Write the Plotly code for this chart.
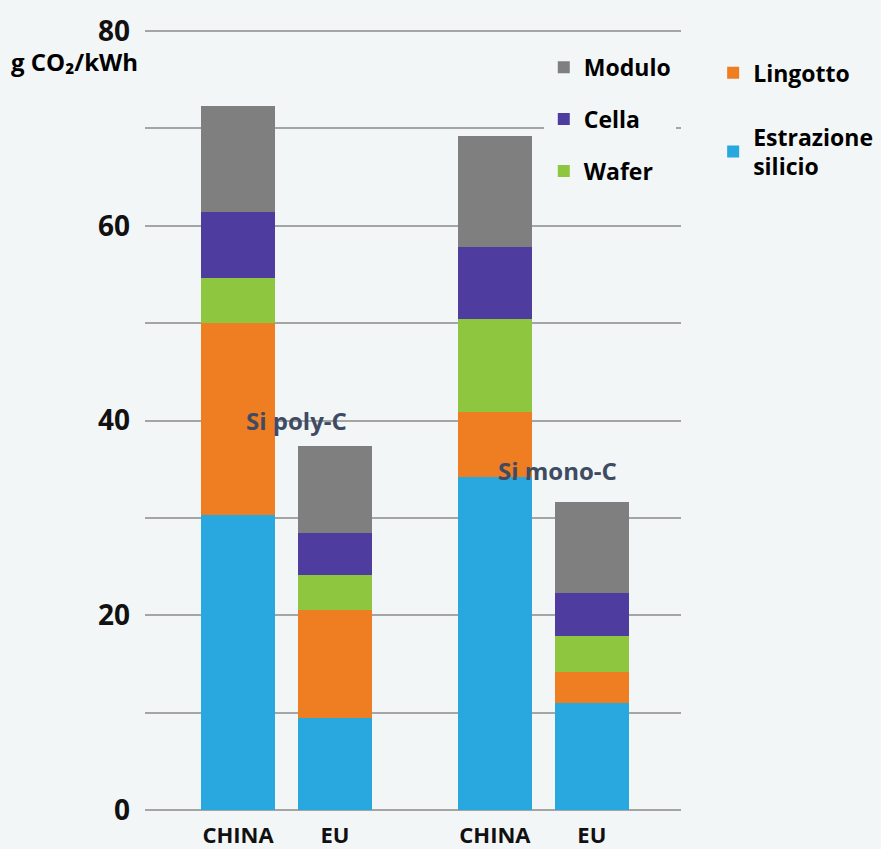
import plotly.graph_objects as go

# ---- data ----
groups = ["Si poly-C", "Si mono-C"]
regions = ["CHINA", "EU"]
stages = ["Estrazione<br>silicio", "Lingotto", "Wafer", "Cella", "Modulo"]
estrazione = [30.3, 9.5, 34.2, 11.0]
lingotto = [19.7, 11.0, 6.7, 3.2]
wafer = [4.6, 3.6, 9.5, 3.7]
cella = [6.8, 4.3, 7.4, 4.4]
modulo = [10.9, 9.0, 11.4, 9.3]
y_ticks = [0, 20, 40, 60, 80]

series = [estrazione, lingotto, wafer, cella, modulo]
colors = ["#29a7df", "#ef7d22", "#8ec63f", "#4e3d9e", "#7f7f7f"]
legend_of = ["legend2", "legend2", "legend", "legend", "legend"]
legend_rank = [2, 1, 3, 2, 1]

# layout positions of the bars (group spacing)
GAP = 2.65
xpos = [g * GAP + r for g in range(len(groups)) for r in range(len(regions))]
xlabels = [r for g in groups for r in regions]

BG = "#f3f6f6"
FONT = "Open Sans"

fig = go.Figure()
for name, vals, col, lg, rk in zip(stages, series, colors, legend_of, legend_rank):
    fig.add_trace(go.Bar(
        x=xpos, y=vals, name=name, marker=dict(color=col, line=dict(width=0)),
        width=0.77, legend=lg, legendgroup=name, legendrank=rk,
    ))

grid_vals = list(range(0, 81, 10))
grid_text = [str(v) if v in y_ticks else "" for v in grid_vals]

L, R, T, B = 145, 200, 26, 34
W, H = 881 - L - R, 849 - T - B

fig.update_layout(
    width=881, height=849,
    barmode="stack",
    paper_bgcolor=BG, plot_bgcolor=BG,
    margin=dict(l=L, r=R, t=T, b=B, autoexpand=False),
    font=dict(family=FONT, color="#000000"),
    xaxis=dict(
        range=[-0.96, 4.57], tickvals=xpos, ticktext=xlabels,
        showgrid=False, zeroline=False, showline=False, automargin=False,
        tickfont=dict(size=22, family=FONT, weight="bold", color="#111111"),
        ticks="", ticklabelstandoff=5,
    ),
    yaxis=dict(
        range=[-0.5, 80.5], tickvals=grid_vals, ticktext=grid_text,
        showgrid=True, gridcolor="#a5a5a5", gridwidth=2, automargin=False,
        zeroline=False, showline=False, ticks="",
        tickfont=dict(size=28, family=FONT, weight="bold", color="#111111"),
        ticklabelstandoff=14,
    ),
    legend=dict(
        x=0.744, y=0.975, xanchor="left", yanchor="top",
        bgcolor=BG, traceorder="grouped", tracegroupgap=19,
        font=dict(size=23, family=FONT, weight="bold", color="#000000"),
    ),
    legend2=dict(
        x=1.06, y=0.968, xanchor="left", yanchor="top",
        bgcolor="rgba(0,0,0,0)", traceorder="grouped", tracegroupgap=31,
        font=dict(size=23, family=FONT, weight="bold", color="#000000"),
    ),
    bargap=0,
)

# group labels
for gi, gname in enumerate(groups):
    gx = sum(xpos[gi * len(regions):(gi + 1) * len(regions)]) / len(regions)
    gy = 40 if gi == 0 else 34.9
    fig.add_annotation(x=gx, y=gy, xref="x", yref="y", text=gname, showarrow=False,
                       xshift=10 if gi == 0 else 14,
                       font=dict(size=24, family=FONT, weight="bold", color="#3e4b63"))

# unit label
fig.add_annotation(x=(140 - L) / W, y=(849 - B - 61) / H, xref="paper", yref="paper",
                   text="g CO₂/kWh", showarrow=False, xanchor="right", yanchor="middle",
                   font=dict(size=24, family=FONT, weight="bold", color="#000000"))

fig.write_html(
    "out.html",
    config={"displayModeBar": False},
    post_script="document.body.style.margin='0';document.body.style.background='%s';" % BG,
)
